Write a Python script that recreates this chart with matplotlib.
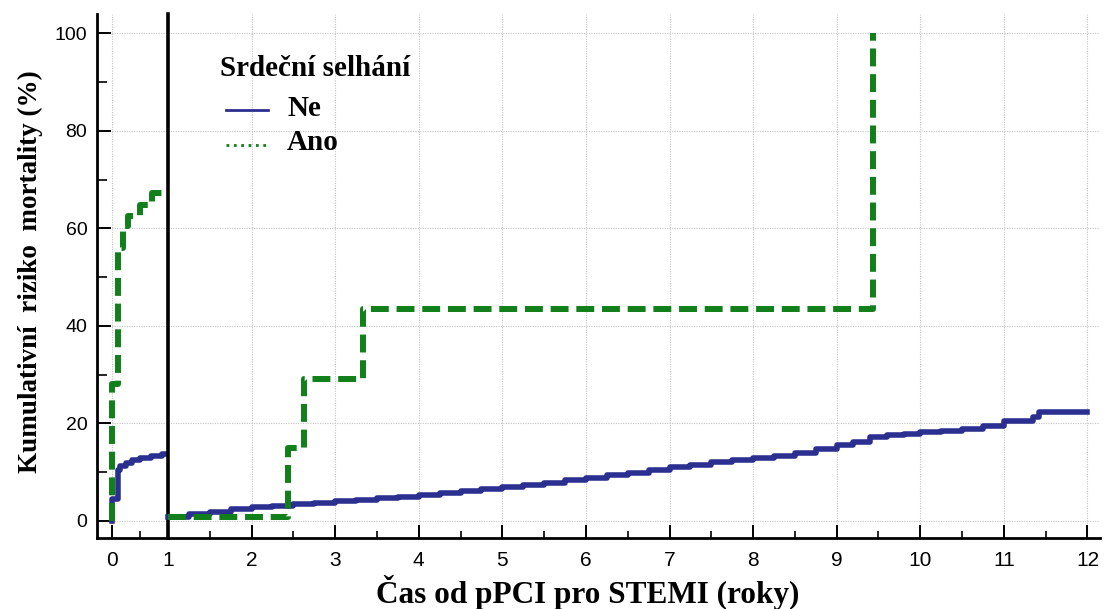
import matplotlib
matplotlib.use("Agg")
import matplotlib.pyplot as plt
from matplotlib.lines import Line2D
from matplotlib.ticker import MultipleLocator

# Cumulative mortality (%) - first year after pPCI
ne_early_t = [0.0, 0.005, 0.1, 0.15, 0.25, 0.35, 0.5, 0.7, 0.9, 1.0]
ne_early_v = [0.0, 4.5, 10.5, 11.2, 11.8, 12.4, 12.9, 13.3, 13.7, 13.7]
ano_early_t = [0.0, 0.005, 0.1, 0.2, 0.28, 0.5, 0.72, 1.0]
ano_early_v = [0.0, 28.0, 56.0, 60.5, 62.5, 64.8, 67.2, 67.2]

# Cumulative mortality (%) - landmark from 1 year on
ne_late_t = [1.0, 1.25, 1.5, 1.75, 2.0, 2.25, 2.5, 2.75, 3.0, 3.25, 3.5, 3.75,
             4.0, 4.25, 4.5, 4.75, 5.0, 5.25, 5.5, 5.75, 6.0, 6.25, 6.5, 6.75,
             7.0, 7.25, 7.5, 7.75, 8.0, 8.25, 8.5, 8.75, 9.0, 9.2, 9.4, 9.6,
             9.8, 10.0, 10.25, 10.5, 10.75, 11.0, 11.35, 11.42, 12.0]
ne_late_v = [0.9, 1.4, 1.9, 2.4, 2.8, 3.1, 3.4, 3.7, 4.0, 4.3, 4.7, 5.0,
             5.4, 5.7, 6.1, 6.5, 6.9, 7.3, 7.8, 8.3, 8.9, 9.4, 9.9, 10.4,
             11.0, 11.5, 12.1, 12.5, 12.9, 13.4, 14.0, 14.7, 15.5, 16.2, 17.2, 17.6,
             17.9, 18.2, 18.5, 18.9, 19.4, 20.6, 21.4, 22.3, 22.3]
ano_late_t = [1.0, 2.43, 2.63, 3.33, 9.43]
ano_late_v = [0.9, 15.0, 29.2, 43.4, 100.0]

legend_title = "Srdeční selhání"
group_labels = ["Ne", "Ano"]
x_label = "Čas od pPCI pro STEMI (roky)"
y_label = "Kumulativní  riziko  mortality (%)"

BLUE = "#2b2f8f"
GREEN = "#12801a"
GRID = "#c4c4c4"
SERIF = ["Liberation Serif", "DejaVu Serif"]
SANS = ["Liberation Sans", "DejaVu Sans"]

W, H = 1105, 609
fig = plt.figure(figsize=(W / 100, H / 100), dpi=100)

x_left, x_mid, x_right = 97, 168, 1100
y_top, y_bot = 14, 538
bottom = 1 - y_bot / H
height = (y_bot - y_top) / H
ax1 = fig.add_axes([x_left / W, bottom, (x_mid - x_left) / W, height])
ax2 = fig.add_axes([x_mid / W, bottom, (x_right - x_mid) / W, height])

ylim = (-3.5, 104)
ax1.set_xlim(-0.27, 1.0)
ax2.set_xlim(1.0, 12.15)
for ax in (ax1, ax2):
    ax.set_ylim(*ylim)
    ax.set_facecolor("white")
    ax.spines["top"].set_visible(False)
    ax.spines["right"].set_visible(False)
    ax.spines["bottom"].set_linewidth(2.0)
    ax.spines["left"].set_linewidth(2.0)
    ax.set_yticks(range(0, 101, 20))
    ax.grid(True, which="major", color=GRID, linestyle=(0, (1, 1.2)), linewidth=0.8)
    ax.set_axisbelow(True)

ax2.spines["left"].set_linewidth(2.6)

# x ticks
ax1.set_xticks([0])
ax1.xaxis.set_minor_locator(MultipleLocator(0.5))
ax2.set_xticks(range(1, 13))
ax2.xaxis.set_minor_locator(MultipleLocator(0.5))
ax1.yaxis.set_minor_locator(MultipleLocator(10))

for ax in (ax1, ax2):
    ax.tick_params(axis="x", which="major", direction="in", length=9.5, width=1.4,
                   pad=9, labelsize=15)
    ax.tick_params(axis="x", which="minor", direction="in", length=5, width=1.2)
    for lab in ax.get_xticklabels():
        lab.set_fontfamily(SANS)

ax1.tick_params(axis="y", which="major", direction="in", length=10, width=1.4,
                pad=7, labelsize=14)
ax1.tick_params(axis="y", which="minor", direction="in", length=7, width=1.2)
for lab in ax1.get_yticklabels():
    lab.set_fontfamily(SANS)
ax2.tick_params(axis="y", which="both", left=False, labelleft=False)

# curves
ax1.step(ne_early_t, ne_early_v, where="post", color=BLUE, lw=4.0, zorder=3)
ax1.step(ano_early_t, ano_early_v, where="post", color=GREEN, lw=4.3,
         dashes=(3, 1.3), zorder=4)
ax2.step(ne_late_t, ne_late_v, where="post", color=BLUE, lw=4.0, zorder=3)
ax2.step(ano_late_t, ano_late_v, where="post", color=GREEN, lw=4.3,
         dashes=(3, 1.3), zorder=4)

for ax in (ax1, ax2):
    for ln in ax.lines:
        ln.set_clip_on(False)

# legend
fig.text(220 / W, 1 - 68 / H, legend_title, fontfamily=SERIF, fontweight="bold",
         fontsize=21, va="center", ha="left")
legend_rows = [(108, BLUE, "-"), (143, GREEN, ":")]
for (yy, col, ls), lab in zip(legend_rows, group_labels):
    fig.add_artist(Line2D([226 / W, 268 / W], [1 - (yy + 2) / H, 1 - (yy + 2) / H],
                          color=col, lw=2.0, linestyle=ls,
                          transform=fig.transFigure))
    fig.text(287 / W, 1 - yy / H, lab, fontfamily=SERIF, fontweight="bold",
             fontsize=21, va="center", ha="left")

# axis labels
fig.text(588 / W, 1 - 592 / H, x_label, fontfamily=SERIF, fontweight="bold",
         fontsize=22.5, ha="center", va="center")
fig.text(30 / W, 1 - 272 / H, y_label, fontfamily=SERIF, fontweight="bold",
         fontsize=19.5, ha="center", va="center", rotation=90)

fig.savefig("out.png", dpi=100, facecolor="white")
